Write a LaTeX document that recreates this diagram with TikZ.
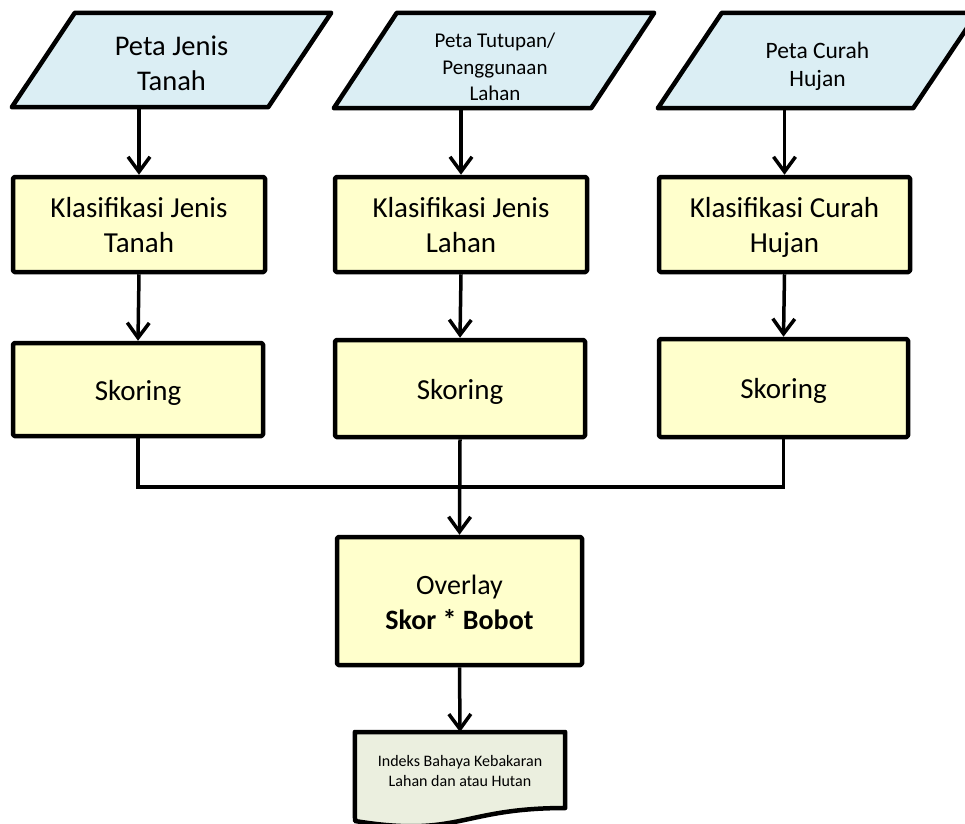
\documentclass[tikz,border=0pt]{standalone}
\usepackage{fontspec}
\setmainfont{Carlito}
\usetikzlibrary{arrows.meta,backgrounds}
\definecolor{parablue}{HTML}{DBEEF4}
\definecolor{boxyellow}{HTML}{FFFFCC}
\definecolor{docgreen}{HTML}{EBEFDF}
\newcommand\vstr{\rule[-0.2\baselineskip]{0pt}{\baselineskip}}
\tikzset{
  outline/.style={draw=black, line width=4.5pt, line join=round},
  ptext/.style={inner sep=0pt, align=center, text=black},
  pshape/.style={inner sep=0pt},
  para/.style={outline, fill=parablue},
  stepbox/.style={outline, fill=boxyellow, rounded corners=1.5pt, inner sep=0pt, align=center,
     font=\fontsize{29}{35}\selectfont},
  conn/.style={draw=black, line width=3.5pt},
  arr/.style={conn, -{Straight Barb[length=15pt,width=22pt]}},
}
\begin{document}
\begin{tikzpicture}[x=1pt,y=-1pt]
\useasboundingbox (0,0) rectangle (965,823);
\clip (0,0) rectangle (965,823);

% input parallelograms (shape nodes; outlines drawn on background)
\node[pshape, minimum width=256pt, minimum height=94pt] (p1) at (171.5,60) {};
\node[pshape, minimum width=257pt, minimum height=95pt] (p2) at (494,60.5) {};
\node[pshape, minimum width=255pt, minimum height=95pt] (p3) at (817.5,60.5) {};
\begin{pgfonlayer}{background}
\draw[para] ([xshift=31.5pt]p1.north west) -- ([xshift=31.5pt]p1.north east) -- ([xshift=-31.5pt]p1.south east) -- ([xshift=-31.5pt]p1.south west) -- cycle;
\draw[para] ([xshift=31.5pt]p2.north west) -- ([xshift=31.5pt]p2.north east) -- ([xshift=-31.5pt]p2.south east) -- ([xshift=-31.5pt]p2.south west) -- cycle;
\draw[para] ([xshift=32pt]p3.north west) -- ([xshift=32pt]p3.north east) -- ([xshift=-32pt]p3.south east) -- ([xshift=-32pt]p3.south west) -- cycle;
\end{pgfonlayer}
\node[ptext, font=\fontsize{28.5}{35}\selectfont] (p1t) at (171.5,66) {\strut Peta Jenis\\\strut Tanah};
\node[ptext, font=\fontsize{21}{26.5}\selectfont] (p2t) at (495,69) {\strut Peta Tutupan/\\\strut Penggunaan\\\strut Lahan};
\node[ptext, font=\fontsize{23.5}{28}\selectfont] (p3t) at (817.5,67) {\strut Peta Curah\\\strut Hujan};

% classification boxes
\node[stepbox, minimum width=252pt, minimum height=95pt] (k1) at (139,224.5) {\vstr Klasifikasi Jenis\\\vstr Tanah};
\node[stepbox, minimum width=252pt, minimum height=95pt] (k2) at (461,224.5) {\vstr Klasifikasi Jenis\\\vstr Lahan};
\node[stepbox, minimum width=251pt, minimum height=95pt] (k3) at (784.5,224.5) {\vstr Klasifikasi Curah\\\vstr Hujan};

% scoring boxes
\node[stepbox, minimum width=250pt, minimum height=93pt] (s1) at (138,389.5) {\vstr Skoring};
\node[stepbox, minimum width=250pt, minimum height=97pt] (s2) at (460,388.5) {\vstr Skoring};
\node[stepbox, minimum width=249pt, minimum height=98pt] (s3) at (783.5,388) {\vstr Skoring};

% overlay
\node[stepbox, minimum width=245pt, minimum height=128pt, font=\fontsize{28}{35}\selectfont] (ov) at (459.5,601) {\vstr Overlay\\\vstr\textbf{Skor * Bobot}};

% output document
\node[ptext, minimum width=210pt, minimum height=80pt, anchor=north, font=\fontsize{16}{20}\selectfont] (doc) at (460,732) {\strut Indeks Bahaya Kebakaran\\\strut Lahan dan atau Hutan};
\begin{pgfonlayer}{background}
\draw[outline, fill=docgreen] (doc.north west) -- (doc.north east) -- ++(0,76)
  .. controls (460,808) and (460,838) .. (355,821) -- cycle;
\end{pgfonlayer}

% connectors
\draw[arr] (p1.south -| k1.north) -- (k1.north);
\draw[arr] (p2.south -| k2.north) -- (k2.north);
\draw[arr] (p3.south -| k3.north) -- (k3.north);
\draw[arr] (k1.south) -- (s1.north);
\draw[arr] (k2.south) -- (s2.north);
\draw[arr] (k3.south) -- (s3.north);
\coordinate (j) at (460,487);
\draw[conn] (s1.south) |- (j) -| (s3.south);
\draw[arr] (s2.south) -- (ov.north);
\draw[arr] (ov.south) -- (doc.north);
\end{tikzpicture}
\end{document}
